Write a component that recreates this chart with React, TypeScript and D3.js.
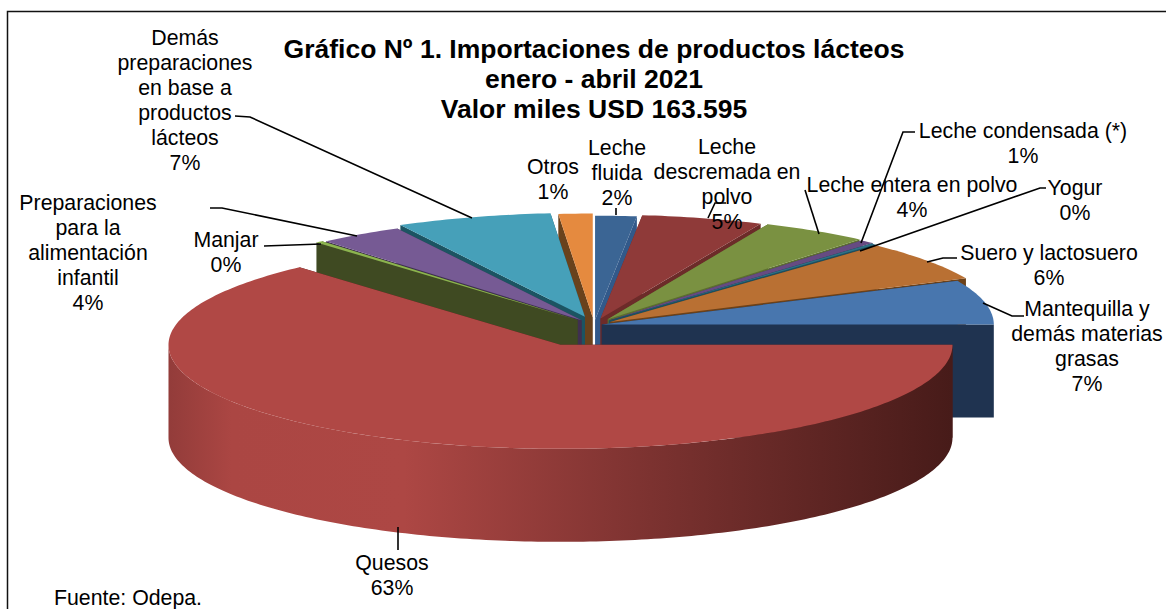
import React from "react";
import * as d3 from "d3";

const categories = ["Leche fluida","Leche descremada en polvo","Leche entera en polvo","Leche condensada (*)","Yogur","Suero y lactosuero","Mantequilla y demás materias grasas","Quesos","Manjar","Preparaciones para la alimentación infantil","Demás preparaciones en base a productos lácteos","Otros"];
const shares = [1.7,5.0,4.4,0.6,0.2,6.2,6.9,63.4,0.3,3.5,6.4,1.4];
const percentLabels = ["2%","5%","4%","1%","0%","6%","7%","63%","0%","4%","7%","1%"];
const explosion = [20,25,26,24,22,20,8,82,25,22,32,28];
const topColors = ["#3b6594","#8f3a39","#7a9141","#664b82","#2d7086","#b97033","#4876ae","#b04845","#8cb34f","#765a94","#46a0b9","#e58a3f"];
const sideColors = ["#32598a","#6c2b29","#5c6e30","#4a3660","#1d4f5f","#6c4119","#1f3350","#4a1c1a","#3f4a22","#3f3050","#1c5462","#69421c"];

const titleLines = ["Gráfico Nº 1. Importaciones de productos lácteos","enero - abril 2021","Valor miles USD 163.595"];

// label layout: index into categories, centre x, first baseline, wrapped lines
const labelLayout: [number, number, number, string[]][] = [
  [10,185,45,["Demás","preparaciones","en base a","productos","lácteos"]],
  [9,88,210,["Preparaciones","para la","alimentación","infantil"]],
  [8,226,247,["Manjar"]],
  [11,553,174,["Otros"]],
  [0,617,155,["Leche","fluida"]],
  [1,727,154,["Leche","descremada en","polvo"]],
  [2,912,192,["Leche entera en polvo"]],
  [3,1023,138,["Leche condensada (*)"]],
  [4,1075,195,["Yogur"]],
  [5,1049,260,["Suero y lactosuero"]],
  [6,1087,316,["Mantequilla y","demás materias","grasas"]],
  [7,392,570,["Quesos"]],
];
const leaders: [number, number][][] = [
  [[235,116],[250,117],[472,218]],
  [[210,208],[222,208],[357,236]],
  [[264,246],[321,244]],
  [[616,208],[616,215]],
  [[726,203],[715,203],[708,218]],
  [[805,190],[819,234]],
  [[915,132],[903,132],[861,243]],
  [[1046,188],[1040,188],[860,251]],
  [[957,258],[943,258],[927,262]],
  [[1024,316],[1012,316],[983,303]],
  [[398,527],[398,550]],
];

const CX = 594, CY = 325, RX = 392, RY = 104, DEPTH = 93;
const FONT = "'Liberation Sans', Arial, sans-serif";
const LINE = 25;

const xOf = (t: number) => RX * Math.sin(t);
const yOf = (t: number) => -RY * Math.cos(t);
const linePath = d3.line<[number, number]>();

export default function App() {
  const arcs = d3.pie<number>().sort(null).value((d) => d)(shares);
  const slices = arcs.map((a, i) => {
    const mid = (a.startAngle + a.endAngle) / 2;
    const ox = CX + xOf(mid) * (explosion[i] / RX);
    const oy = CY + yOf(mid) * (explosion[i] / RY) * (RY / RX);
    return { i, a, mid, ox, oy };
  });
  // paint from the back of the pie to the front
  const order = [...slices].sort((p, q) => Math.cos(q.mid) - Math.cos(p.mid));

  const rim = (s: typeof slices[number], from: number, to: number, dy = 0): [number, number][] => {
    const n = Math.max(2, Math.ceil(Math.abs(to - from) * 60));
    return d3.range(n + 1).map((k) => {
      const t = from + ((to - from) * k) / n;
      return [s.ox + xOf(t), s.oy + yOf(t) + dy] as [number, number];
    });
  };
  const face = (s: typeof slices[number], t: number) => {
    const p: [number, number] = [s.ox + xOf(t), s.oy + yOf(t)];
    return linePath([[s.ox, s.oy], p, [p[0], p[1] + DEPTH], [s.ox, s.oy + DEPTH]]) + "Z";
  };

  return (
    <svg width={1166} height={609} style={{ position: "absolute", left: 0, top: 0, background: "#fff" }} fontFamily={FONT}>
      <defs>
        <linearGradient id="quesosWall" gradientUnits="userSpaceOnUse" x1={169} x2={952} y1={0} y2={0}>
          <stop offset="0" stopColor="#933c3a" />
          <stop offset="0.08" stopColor="#ab4643" />
          <stop offset="0.3" stopColor="#ad4744" />
          <stop offset="0.6" stopColor="#7e3331" />
          <stop offset="1" stopColor="#471b19" />
        </linearGradient>
      </defs>
      <path d="M1166,11.5H7.5V609" fill="none" stroke="#111" strokeWidth={1.5} />

      {order.map((s) => {
        const { i, a } = s;
        const wallFrom = Math.max(a.startAngle, Math.PI / 2);
        const wallTo = Math.min(a.endAngle, (3 * Math.PI) / 2);
        const top = rim(s, a.startAngle, a.endAngle);
        return (
          <g key={categories[i]}>
            <path d={face(s, a.startAngle)} fill={sideColors[i]} />
            <path d={face(s, a.endAngle)} fill={sideColors[i]} />
            {wallTo > wallFrom && (
              <path
                d={linePath([...rim(s, wallFrom, wallTo), ...rim(s, wallFrom, wallTo, DEPTH).reverse()]) + "Z"}
                fill="url(#quesosWall)"
              />
            )}
            <path d={linePath([[s.ox, s.oy], ...top]) + "Z"} fill={topColors[i]} />
          </g>
        );
      })}

      {leaders.map((pts, k) => (
        <path key={k} d={linePath(pts) as string} fill="none" stroke="#000" strokeWidth={1.6} />
      ))}

      {labelLayout.map(([idx, x, y, lines]) => (
        <text key={idx} x={x} y={y} textAnchor="middle" fontSize={21.3} fill="#000">
          {[...lines, percentLabels[idx]].map((t, k) => (
            <tspan key={k} x={x} y={y + k * LINE}>{t}</tspan>
          ))}
        </text>
      ))}

      {titleLines.map((t, k) => (
        <text key={t} x={594} y={58 + k * 30} textAnchor="middle" fontSize={26.5} fontWeight="bold" fill="#000">{t}</text>
      ))}
      <text x={54} y={605} fontSize={21.3} fill="#000">Fuente: Odepa.</text>
    </svg>
  );
}
